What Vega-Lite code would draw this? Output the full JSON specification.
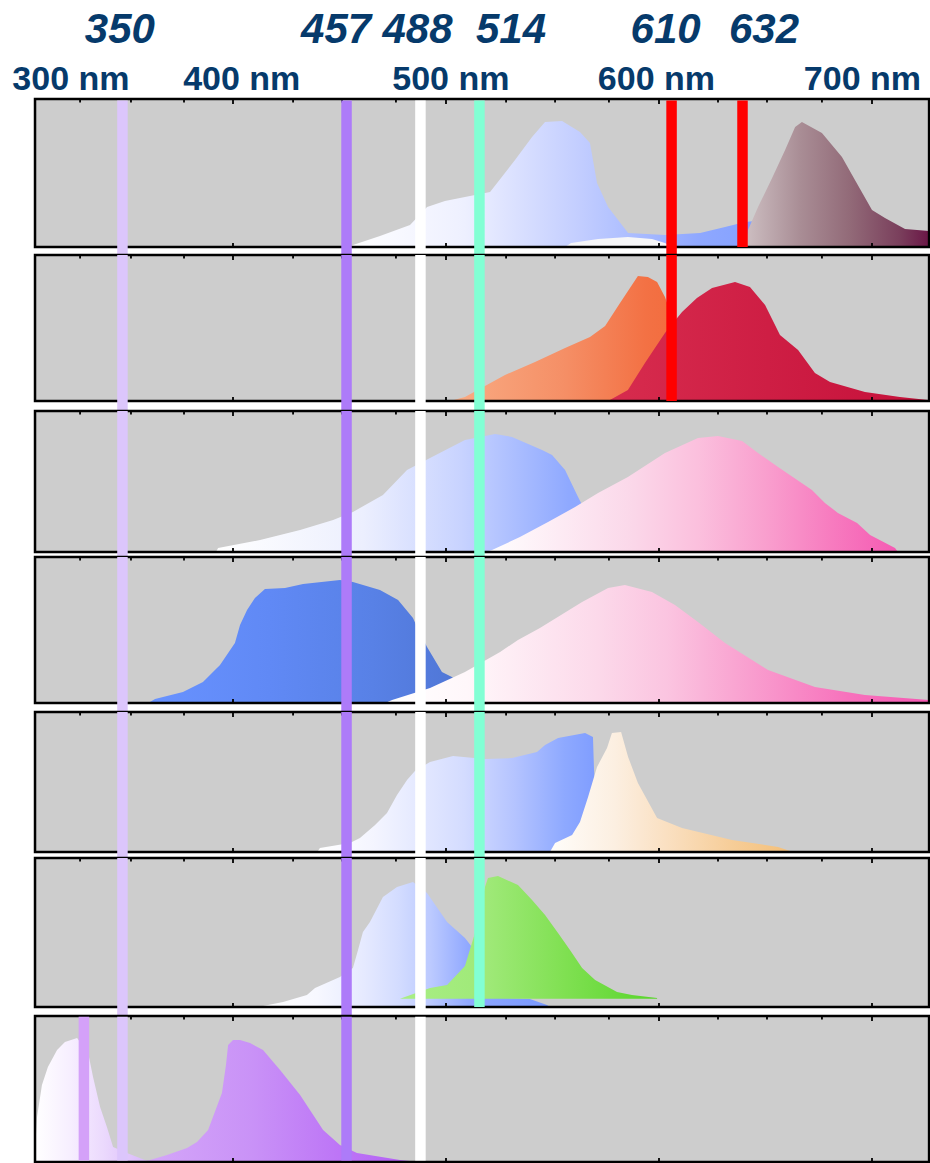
{
"$schema":"https://vega.github.io/schema/vega-lite/v6.json",
"padding":0,"spacing":0,"bounds":"flush","background":"white",
"config":{"view":{"stroke":null}},
"datasets":{
"labels":[
{"t":"350","wl":346.9,"row":"laser"},{"t":"457","wl":448.4,"row":"laser"},{"t":"488","wl":486.6,"row":"laser"},{"t":"514","wl":530.5,"row":"laser"},{"t":"610","wl":603.1,"row":"laser"},{"t":"632","wl":649.3,"row":"laser"},
{"t":"300 nm","wl":323.9,"row":"nm"},{"t":"400 nm","wl":404.1,"row":"nm"},{"t":"500 nm","wl":502.3,"row":"nm"},{"t":"600 nm","wl":598.8,"row":"nm"},{"t":"700 nm","wl":695.5,"row":"nm"}],
"ticks":[
{"wl":328.2,"major":false},{"wl":352.1,"major":false},{"wl":377.0,"major":false},{"wl":400,"major":true},{"wl":428.2,"major":false},{"wl":451.2,"major":false},{"wl":476.5,"major":false},{"wl":500,"major":true},{"wl":528.2,"major":false},{"wl":551.2,"major":false},{"wl":576.5,"major":false},{"wl":600,"major":true},{"wl":627.7,"major":false},{"wl":650.7,"major":false},{"wl":676.5,"major":false},{"wl":700,"major":true}],
"lasers":[
{"name":"l350","wl":348.1,"first":1,"last":7},{"name":"l457","wl":453.3,"first":1,"last":7},{"name":"l488","wl":488.0,"first":1,"last":7},{"name":"l514","wl":515.7,"first":1,"last":6},{"name":"l610","wl":605.9,"first":1,"last":2},{"name":"l632","wl":639.2,"first":1,"last":1},{"name":"l330","wl":330.0,"first":7,"last":7}],
"spectra":[
{"c":"p1a","wl":453.5,"v":0},{"c":"p1a","wl":469.0,"v":0.074},{"c":"p1a","wl":483.1,"v":0.149},{"c":"p1a","wl":491.1,"v":0.27},{"c":"p1a","wl":499.5,"v":0.311},{"c":"p1a","wl":508.9,"v":0.338},{"c":"p1a","wl":520.7,"v":0.372},{"c":"p1a","wl":532.4,"v":0.588},{"c":"p1a","wl":540.4,"v":0.743},{"c":"p1a","wl":546.5,"v":0.845},{"c":"p1a","wl":554.5,"v":0.851},{"c":"p1a","wl":562.9,"v":0.777},{"c":"p1a","wl":567.6,"v":0.703},{"c":"p1a","wl":570.9,"v":0.432},{"c":"p1a","wl":576.1,"v":0.27},{"c":"p1a","wl":585.5,"v":0.095},{"c":"p1a","wl":602.8,"v":0.081},{"c":"p1a","wl":619.3,"v":0.095},{"c":"p1a","wl":631.0,"v":0.135},{"c":"p1a","wl":640.4,"v":0.169},{"c":"p1a","wl":645.1,"v":0.176},{"c":"p1a","wl":647.4,"v":0.047},{"c":"p1a","wl":649.8,"v":0},
{"c":"p1w","wl":555.9,"v":0},{"c":"p1w","wl":558.7,"v":0.027},{"c":"p1w","wl":571.4,"v":0.054},{"c":"p1w","wl":585.4,"v":0.068},{"c":"p1w","wl":596.7,"v":0.054},{"c":"p1w","wl":602.8,"v":0.027},{"c":"p1w","wl":606.1,"v":0},
{"c":"p1m","wl":640.4,"v":0},{"c":"p1m","wl":641.8,"v":0.115},{"c":"p1m","wl":646.5,"v":0.27},{"c":"p1m","wl":653.1,"v":0.466},{"c":"p1m","wl":659.2,"v":0.655},{"c":"p1m","wl":663.9,"v":0.811},{"c":"p1m","wl":667.1,"v":0.845},{"c":"p1m","wl":676.5,"v":0.77},{"c":"p1m","wl":685.9,"v":0.608},{"c":"p1m","wl":692.0,"v":0.453},{"c":"p1m","wl":700.0,"v":0.25},{"c":"p1m","wl":706.1,"v":0.196},{"c":"p1m","wl":715.5,"v":0.122},{"c":"p1m","wl":726.8,"v":0.108},
{"c":"p2o","wl":501.9,"v":0},{"c":"p2o","wl":508.9,"v":0.027},{"c":"p2o","wl":518.3,"v":0.103},{"c":"p2o","wl":527.7,"v":0.178},{"c":"p2o","wl":541.8,"v":0.267},{"c":"p2o","wl":555.9,"v":0.363},{"c":"p2o","wl":567.6,"v":0.438},{"c":"p2o","wl":574.7,"v":0.514},{"c":"p2o","wl":581.7,"v":0.671},{"c":"p2o","wl":590.1,"v":0.856},{"c":"p2o","wl":594.8,"v":0.849},{"c":"p2o","wl":599.1,"v":0.815},{"c":"p2o","wl":602.8,"v":0.712},{"c":"p2o","wl":609.9,"v":0.418},{"c":"p2o","wl":619.3,"v":0.144},{"c":"p2o","wl":626.3,"v":0},
{"c":"p2r","wl":576.1,"v":0},{"c":"p2r","wl":585.4,"v":0.075},{"c":"p2r","wl":593.4,"v":0.26},{"c":"p2r","wl":602.8,"v":0.466},{"c":"p2r","wl":610.8,"v":0.61},{"c":"p2r","wl":617.8,"v":0.705},{"c":"p2r","wl":624.9,"v":0.774},{"c":"p2r","wl":635.7,"v":0.815},{"c":"p2r","wl":642.7,"v":0.781},{"c":"p2r","wl":649.8,"v":0.658},{"c":"p2r","wl":656.8,"v":0.452},{"c":"p2r","wl":665.3,"v":0.349},{"c":"p2r","wl":673.2,"v":0.192},{"c":"p2r","wl":680.3,"v":0.13},{"c":"p2r","wl":696.7,"v":0.062},{"c":"p2r","wl":713.1,"v":0.027},{"c":"p2r","wl":726.3,"v":0.007},
{"c":"p3b","wl":392.0,"v":0},{"c":"p3b","wl":393.0,"v":0.028},{"c":"p3b","wl":412.7,"v":0.085},{"c":"p3b","wl":431.5,"v":0.156},{"c":"p3b","wl":447.0,"v":0.227},{"c":"p3b","wl":456.3,"v":0.284},{"c":"p3b","wl":470.4,"v":0.404},{"c":"p3b","wl":481.7,"v":0.582},{"c":"p3b","wl":492.5,"v":0.667},{"c":"p3b","wl":508.9,"v":0.794},{"c":"p3b","wl":523.0,"v":0.837},{"c":"p3b","wl":531.0,"v":0.816},{"c":"p3b","wl":545.1,"v":0.723},{"c":"p3b","wl":549.8,"v":0.688},{"c":"p3b","wl":555.9,"v":0.582},{"c":"p3b","wl":562.0,"v":0.39},{"c":"p3b","wl":567.6,"v":0.227},{"c":"p3b","wl":581.7,"v":0.085},{"c":"p3b","wl":619.3,"v":0.021},{"c":"p3b","wl":622.0,"v":0},
{"c":"p3p","wl":518.3,"v":0},{"c":"p3p","wl":521.6,"v":0.014},{"c":"p3p","wl":534.7,"v":0.106},{"c":"p3p","wl":547.9,"v":0.213},{"c":"p3p","wl":560.6,"v":0.319},{"c":"p3p","wl":571.4,"v":0.418},{"c":"p3p","wl":585.4,"v":0.532},{"c":"p3p","wl":602.8,"v":0.702},{"c":"p3p","wl":618.3,"v":0.809},{"c":"p3p","wl":627.7,"v":0.823},{"c":"p3p","wl":639.0,"v":0.787},{"c":"p3p","wl":646.5,"v":0.702},{"c":"p3p","wl":655.9,"v":0.603},{"c":"p3p","wl":671.8,"v":0.44},{"c":"p3p","wl":677.9,"v":0.348},{"c":"p3p","wl":684.0,"v":0.277},{"c":"p3p","wl":693.0,"v":0.206},{"c":"p3p","wl":699.1,"v":0.121},{"c":"p3p","wl":710.8,"v":0.028},{"c":"p3p","wl":712.2,"v":0},
{"c":"p4b","wl":361.0,"v":0.007},{"c":"p4b","wl":363.4,"v":0.027},{"c":"p4b","wl":376.5,"v":0.075},{"c":"p4b","wl":385.9,"v":0.144},{"c":"p4b","wl":393.9,"v":0.26},{"c":"p4b","wl":400.9,"v":0.411},{"c":"p4b","wl":403.3,"v":0.534},{"c":"p4b","wl":406.6,"v":0.637},{"c":"p4b","wl":410.3,"v":0.719},{"c":"p4b","wl":415.0,"v":0.781},{"c":"p4b","wl":424.4,"v":0.788},{"c":"p4b","wl":432.9,"v":0.815},{"c":"p4b","wl":450.2,"v":0.842},{"c":"p4b","wl":456.3,"v":0.829},{"c":"p4b","wl":469.0,"v":0.774},{"c":"p4b","wl":477.5,"v":0.705},{"c":"p4b","wl":484.5,"v":0.582},{"c":"p4b","wl":486.4,"v":0.521},{"c":"p4b","wl":491.1,"v":0.384},{"c":"p4b","wl":498.1,"v":0.212},{"c":"p4b","wl":502.8,"v":0.178},{"c":"p4b","wl":511.3,"v":0.089},{"c":"p4b","wl":520.7,"v":0.014},{"c":"p4b","wl":522.0,"v":0},
{"c":"p4p","wl":471.4,"v":0},{"c":"p4p","wl":474.7,"v":0.021},{"c":"p4p","wl":492.5,"v":0.103},{"c":"p4p","wl":508.9,"v":0.212},{"c":"p4p","wl":525.4,"v":0.349},{"c":"p4p","wl":533.8,"v":0.432},{"c":"p4p","wl":544.1,"v":0.514},{"c":"p4p","wl":563.9,"v":0.692},{"c":"p4p","wl":576.1,"v":0.788},{"c":"p4p","wl":584.0,"v":0.808},{"c":"p4p","wl":596.7,"v":0.76},{"c":"p4p","wl":607.5,"v":0.671},{"c":"p4p","wl":618.3,"v":0.555},{"c":"p4p","wl":631.0,"v":0.411},{"c":"p4p","wl":651.2,"v":0.226},{"c":"p4p","wl":673.2,"v":0.11},{"c":"p4p","wl":696.7,"v":0.055},{"c":"p4p","wl":726.8,"v":0.021},
{"c":"p5b","wl":439.9,"v":0.007},{"c":"p5b","wl":440.8,"v":0.029},{"c":"p5b","wl":454.9,"v":0.064},{"c":"p5b","wl":459.6,"v":0.1},{"c":"p5b","wl":466.7,"v":0.193},{"c":"p5b","wl":472.3,"v":0.279},{"c":"p5b","wl":477.0,"v":0.407},{"c":"p5b","wl":481.7,"v":0.514},{"c":"p5b","wl":485.4,"v":0.579},{"c":"p5b","wl":492.5,"v":0.643},{"c":"p5b","wl":503.3,"v":0.686},{"c":"p5b","wl":518.3,"v":0.664},{"c":"p5b","wl":531.0,"v":0.671},{"c":"p5b","wl":542.7,"v":0.714},{"c":"p5b","wl":546.5,"v":0.764},{"c":"p5b","wl":552.6,"v":0.814},{"c":"p5b","wl":565.3,"v":0.85},{"c":"p5b","wl":569.0,"v":0.821},{"c":"p5b","wl":569.5,"v":0.586},{"c":"p5b","wl":570.4,"v":0.371},{"c":"p5b","wl":571.3,"v":0},
{"c":"p5c","wl":548.8,"v":0},{"c":"p5c","wl":551.2,"v":0.064},{"c":"p5c","wl":559.2,"v":0.121},{"c":"p5c","wl":562.9,"v":0.214},{"c":"p5c","wl":566.7,"v":0.393},{"c":"p5c","wl":570.9,"v":0.607},{"c":"p5c","wl":575.6,"v":0.743},{"c":"p5c","wl":577.9,"v":0.85},{"c":"p5c","wl":582.2,"v":0.857},{"c":"p5c","wl":585.5,"v":0.679},{"c":"p5c","wl":590.1,"v":0.493},{"c":"p5c","wl":599.1,"v":0.243},{"c":"p5c","wl":610.8,"v":0.171},{"c":"p5c","wl":634.3,"v":0.086},{"c":"p5c","wl":655.9,"v":0.036},{"c":"p5c","wl":661.5,"v":0.007},
{"c":"p6b","wl":412.0,"v":0},{"c":"p6b","wl":414.1,"v":0.007},{"c":"p6b","wl":423.5,"v":0.034},{"c":"p6b","wl":434.7,"v":0.081},{"c":"p6b","wl":438.5,"v":0.128},{"c":"p6b","wl":450.2,"v":0.201},{"c":"p6b","wl":456.3,"v":0.262},{"c":"p6b","wl":458.7,"v":0.383},{"c":"p6b","wl":461.0,"v":0.503},{"c":"p6b","wl":464.3,"v":0.57},{"c":"p6b","wl":470.4,"v":0.738},{"c":"p6b","wl":477.0,"v":0.805},{"c":"p6b","wl":484.5,"v":0.839},{"c":"p6b","wl":491.1,"v":0.765},{"c":"p6b","wl":500.5,"v":0.57},{"c":"p6b","wl":508.9,"v":0.463},{"c":"p6b","wl":512.2,"v":0.403},{"c":"p6b","wl":516.0,"v":0.282},{"c":"p6b","wl":520.7,"v":0.148},{"c":"p6b","wl":525.4,"v":0.06},{"c":"p6b","wl":539.4,"v":0.054},{"c":"p6b","wl":547.4,"v":0.013},{"c":"p6b","wl":548.8,"v":0},
{"c":"p6g","wl":478.4,"v":0.055},{"c":"p6g","wl":492.5,"v":0.128},{"c":"p6g","wl":500.5,"v":0.148},{"c":"p6g","wl":508.9,"v":0.275},{"c":"p6g","wl":513.6,"v":0.497},{"c":"p6g","wl":518.3,"v":0.805},{"c":"p6g","wl":519.7,"v":0.866},{"c":"p6g","wl":524.4,"v":0.879},{"c":"p6g","wl":533.8,"v":0.819},{"c":"p6g","wl":540.4,"v":0.718},{"c":"p6g","wl":546.5,"v":0.617},{"c":"p6g","wl":552.6,"v":0.497},{"c":"p6g","wl":558.2,"v":0.383},{"c":"p6g","wl":563.9,"v":0.262},{"c":"p6g","wl":570.0,"v":0.181},{"c":"p6g","wl":580.3,"v":0.101},{"c":"p6g","wl":587.3,"v":0.081},{"c":"p6g","wl":599.1,"v":0.06},
{"c":"p7w","wl":307.05,"v":0},{"c":"p7w","wl":307.5,"v":0.185},{"c":"p7w","wl":308.0,"v":0.308},{"c":"p7w","wl":310.3,"v":0.527},{"c":"p7w","wl":313.1,"v":0.651},{"c":"p7w","wl":317.4,"v":0.767},{"c":"p7w","wl":321.1,"v":0.822},{"c":"p7w","wl":326.8,"v":0.849},{"c":"p7w","wl":332.0,"v":0.747},{"c":"p7w","wl":334.3,"v":0.582},{"c":"p7w","wl":337.6,"v":0.377},{"c":"p7w","wl":340.8,"v":0.24},{"c":"p7w","wl":343.7,"v":0.103},{"c":"p7w","wl":350.2,"v":0.062},{"c":"p7w","wl":361.0,"v":0},
{"c":"p7p","wl":356.3,"v":0},{"c":"p7p","wl":361.0,"v":0.014},{"c":"p7p","wl":369.0,"v":0.048},{"c":"p7p","wl":378.4,"v":0.096},{"c":"p7p","wl":383.1,"v":0.137},{"c":"p7p","wl":388.3,"v":0.219},{"c":"p7p","wl":394.8,"v":0.473},{"c":"p7p","wl":396.7,"v":0.664},{"c":"p7p","wl":397.7,"v":0.801},{"c":"p7p","wl":400.0,"v":0.836},{"c":"p7p","wl":403.3,"v":0.836},{"c":"p7p","wl":408.0,"v":0.815},{"c":"p7p","wl":414.1,"v":0.767},{"c":"p7p","wl":422.1,"v":0.63},{"c":"p7p","wl":431.5,"v":0.459},{"c":"p7p","wl":442.3,"v":0.219},{"c":"p7p","wl":450.2,"v":0.116},{"c":"p7p","wl":458.2,"v":0.062},{"c":"p7p","wl":478.4,"v":0.014},{"c":"p7p","wl":487.8,"v":0}
]},
"vconcat":[
{"width":930,"height":99,"data":{"name":"labels"},"layer":[
 {"transform":[{"filter":"datum.row=='laser'"}],"mark":{"type":"text","font":"Liberation Sans","fontSize":42,"fontWeight":"bold","fontStyle":"italic","color":"#063a6b","baseline":"alphabetic","align":"center"},
  "encoding":{"x":{"field":"wl","type":"quantitative","scale":{"domain":[290.61,727.23],"nice":false,"zero":false},"axis":null},"y":{"field":"row","type":"nominal","scale":{"type":"point","domain":["laser","nm"],"range":[43,90],"padding":0},"axis":null},"text":{"field":"t"}}},
 {"transform":[{"filter":"datum.row=='nm'"}],"mark":{"type":"text","font":"Liberation Sans","fontSize":34,"fontWeight":"bold","color":"#063a6b","baseline":"alphabetic","align":"center"},
  "encoding":{"x":{"field":"wl","type":"quantitative","scale":{"domain":[290.61,727.23],"nice":false,"zero":false},"axis":null},"y":{"field":"row","type":"nominal","scale":{"type":"point","domain":["laser","nm"],"range":[43,90],"padding":0},"axis":null},"text":{"field":"t"}}}
]},
{"width":930,"height":156,"layer":[
 {"data":{"values":[{}]},"mark":{"type":"rect","fill":"#cdcdcd"},"encoding":{"x":{"datum":307.05,"type":"quantitative","scale":{"domain":[290.61,727.23],"nice":false,"zero":false},"axis":null},"x2":{"datum":726.8},"y":{"datum":0,"type":"quantitative","scale":{"domain":[-0.05405,1],"nice":false,"zero":false},"axis":null},"y2":{"datum":1}}},
 {"data":{"name":"spectra"},"transform":[{"filter":"datum.c=='p1a'"}],"mark":{"type":"area","opacity":1,"fill":{"gradient":"linear","stops":[{"offset":0,"color":"#ffffff"},{"offset":0.28,"color":"#eef0ff"},{"offset":0.56,"color":"#c2cdff"},{"offset":0.84,"color":"#8fa8ff"},{"offset":1,"color":"#82a0ff"}]}},"encoding":{"x":{"field":"wl","type":"quantitative","axis":null},"y":{"field":"v","type":"quantitative","axis":null},"y2":{"datum":0}}},
 {"data":{"name":"spectra"},"transform":[{"filter":"datum.c=='p1w'"}],"mark":{"type":"area","opacity":1,"fill":"#f6f6f8"},"encoding":{"x":{"field":"wl","type":"quantitative","axis":null},"y":{"field":"v","type":"quantitative","axis":null},"y2":{"datum":0}}},
 {"data":{"name":"spectra"},"transform":[{"filter":"datum.c=='p1m'"}],"mark":{"type":"area","opacity":1,"fill":{"gradient":"linear","stops":[{"offset":0,"color":"#cdbfc2"},{"offset":0.3,"color":"#a98d95"},{"offset":0.57,"color":"#926a78"},{"offset":0.84,"color":"#7a3f5c"},{"offset":1,"color":"#6a1646"}]}},"encoding":{"x":{"field":"wl","type":"quantitative","axis":null},"y":{"field":"v","type":"quantitative","axis":null},"y2":{"datum":0}}},
 {"data":{"values":[{}]},"mark":{"type":"rect","fill":"transparent","stroke":"#000000","strokeWidth":2.5},"encoding":{"x":{"datum":307.05,"type":"quantitative"},"x2":{"datum":726.8},"y":{"datum":0,"type":"quantitative"},"y2":{"datum":1}}},
 {"data":{"name":"ticks"},"transform":[{"filter":"datum.major"}],"mark":{"type":"rule","color":"#000000","strokeWidth":1.8},"encoding":{"x":{"field":"wl","type":"quantitative"},"y":{"datum":1,"type":"quantitative"},"y2":{"datum":0.9662}}},
 {"data":{"name":"ticks"},"transform":[{"filter":"!datum.major"}],"mark":{"type":"rule","color":"#000000","strokeWidth":1.8},"encoding":{"x":{"field":"wl","type":"quantitative"},"y":{"datum":1,"type":"quantitative"},"y2":{"datum":0.9764}}},
 {"data":{"name":"ticks"},"transform":[{"filter":"datum.major"}],"mark":{"type":"rule","color":"#000000","strokeWidth":1.8},"encoding":{"x":{"field":"wl","type":"quantitative"},"y":{"datum":0,"type":"quantitative"},"y2":{"datum":0.027}}},
 {"data":{"name":"lasers"},"transform":[{"filter":"datum.first<=1 && datum.last>1"}],"mark":{"type":"rule","strokeWidth":10.5},"encoding":{"x":{"field":"wl","type":"quantitative"},"y":{"datum":-0.05405,"type":"quantitative"},"y2":{"datum":0.99},"color":{"field":"name","type":"nominal","scale":{"domain":["l350","l457","l488","l514","l610","l632","l330"],"range":["#dcc6fc","#ad7bf9","#ffffff","#82ffd4","#ff0000","#ff0000","#d4a1f9"]},"legend":null}}},
 {"data":{"name":"lasers"},"transform":[{"filter":"datum.last==1"}],"mark":{"type":"rule","strokeWidth":10.5},"encoding":{"x":{"field":"wl","type":"quantitative"},"y":{"datum":0,"type":"quantitative"},"y2":{"datum":0.99},"color":{"field":"name","type":"nominal","scale":{"domain":["l350","l457","l488","l514","l610","l632","l330"],"range":["#dcc6fc","#ad7bf9","#ffffff","#82ffd4","#ff0000","#ff0000","#d4a1f9"]},"legend":null}}}
]},
{"width":930,"height":156,"layer":[
 {"data":{"values":[{}]},"mark":{"type":"rect","fill":"#cdcdcd"},"encoding":{"x":{"datum":307.05,"type":"quantitative","scale":{"domain":[290.61,727.23],"nice":false,"zero":false},"axis":null},"x2":{"datum":726.8},"y":{"datum":0,"type":"quantitative","scale":{"domain":[-0.06849,1],"nice":false,"zero":false},"axis":null},"y2":{"datum":1}}},
 {"data":{"name":"spectra"},"transform":[{"filter":"datum.c=='p2o'"}],"mark":{"type":"area","opacity":1,"fill":{"gradient":"linear","stops":[{"offset":0,"color":"#f9ac84"},{"offset":0.43,"color":"#f58f66"},{"offset":0.74,"color":"#f37144"},{"offset":1,"color":"#f26536"}]}},"encoding":{"x":{"field":"wl","type":"quantitative","axis":null},"y":{"field":"v","type":"quantitative","axis":null},"y2":{"datum":0}}},
 {"data":{"name":"spectra"},"transform":[{"filter":"datum.c=='p2r'"}],"mark":{"type":"area","opacity":1,"fill":{"gradient":"linear","stops":[{"offset":0,"color":"#d72c4e"},{"offset":1,"color":"#c5103a"}]}},"encoding":{"x":{"field":"wl","type":"quantitative","axis":null},"y":{"field":"v","type":"quantitative","axis":null},"y2":{"datum":0}}},
 {"data":{"values":[{}]},"mark":{"type":"rect","fill":"transparent","stroke":"#000000","strokeWidth":2.5},"encoding":{"x":{"datum":307.05,"type":"quantitative"},"x2":{"datum":726.8},"y":{"datum":0,"type":"quantitative"},"y2":{"datum":1}}},
 {"data":{"name":"ticks"},"transform":[{"filter":"datum.major"}],"mark":{"type":"rule","color":"#000000","strokeWidth":1.8},"encoding":{"x":{"field":"wl","type":"quantitative"},"y":{"datum":1,"type":"quantitative"},"y2":{"datum":0.9658}}},
 {"data":{"name":"ticks"},"transform":[{"filter":"!datum.major"}],"mark":{"type":"rule","color":"#000000","strokeWidth":1.8},"encoding":{"x":{"field":"wl","type":"quantitative"},"y":{"datum":1,"type":"quantitative"},"y2":{"datum":0.976}}},
 {"data":{"name":"ticks"},"transform":[{"filter":"datum.major"}],"mark":{"type":"rule","color":"#000000","strokeWidth":1.8},"encoding":{"x":{"field":"wl","type":"quantitative"},"y":{"datum":0,"type":"quantitative"},"y2":{"datum":0.0274}}},
 {"data":{"name":"lasers"},"transform":[{"filter":"datum.first<=2 && datum.last>2"}],"mark":{"type":"rule","strokeWidth":10.5},"encoding":{"x":{"field":"wl","type":"quantitative"},"color":{"field":"name","type":"nominal","scale":{"domain":["l350","l457","l488","l514","l610","l632","l330"],"range":["#dcc6fc","#ad7bf9","#ffffff","#82ffd4","#ff0000","#ff0000","#d4a1f9"]},"legend":null}}},
 {"data":{"name":"lasers"},"transform":[{"filter":"datum.last==2"}],"mark":{"type":"rule","strokeWidth":10.5},"encoding":{"x":{"field":"wl","type":"quantitative"},"y":{"datum":0,"type":"quantitative"},"y2":{"datum":1},"color":{"field":"name","type":"nominal","scale":{"domain":["l350","l457","l488","l514","l610","l632","l330"],"range":["#dcc6fc","#ad7bf9","#ffffff","#82ffd4","#ff0000","#ff0000","#d4a1f9"]},"legend":null}}}
]},
{"width":930,"height":146,"layer":[
 {"data":{"values":[{}]},"mark":{"type":"rect","fill":"#cdcdcd"},"encoding":{"x":{"datum":307.05,"type":"quantitative","scale":{"domain":[290.61,727.23],"nice":false,"zero":false},"axis":null},"x2":{"datum":726.8},"y":{"datum":0,"type":"quantitative","scale":{"domain":[-0.03546,1],"nice":false,"zero":false},"axis":null},"y2":{"datum":1}}},
 {"data":{"name":"spectra"},"transform":[{"filter":"datum.c=='p3b'"}],"mark":{"type":"area","opacity":1,"fill":{"gradient":"linear","stops":[{"offset":0,"color":"#ffffff"},{"offset":0.3,"color":"#eceffe"},{"offset":0.5,"color":"#c8d3ff"},{"offset":0.72,"color":"#8fa9ff"},{"offset":1,"color":"#86a2ff"}]}},"encoding":{"x":{"field":"wl","type":"quantitative","axis":null},"y":{"field":"v","type":"quantitative","axis":null},"y2":{"datum":0}}},
 {"data":{"name":"spectra"},"transform":[{"filter":"datum.c=='p3p'"}],"mark":{"type":"area","opacity":1,"fill":{"gradient":"linear","stops":[{"offset":0,"color":"#ffffff"},{"offset":0.36,"color":"#fbd7e9"},{"offset":0.52,"color":"#fbbfdd"},{"offset":0.68,"color":"#f99fce"},{"offset":0.84,"color":"#f77bbf"},{"offset":1,"color":"#f55ab3"}]}},"encoding":{"x":{"field":"wl","type":"quantitative","axis":null},"y":{"field":"v","type":"quantitative","axis":null},"y2":{"datum":0}}},
 {"data":{"values":[{}]},"mark":{"type":"rect","fill":"transparent","stroke":"#000000","strokeWidth":2.5},"encoding":{"x":{"datum":307.05,"type":"quantitative"},"x2":{"datum":726.8},"y":{"datum":0,"type":"quantitative"},"y2":{"datum":1}}},
 {"data":{"name":"ticks"},"transform":[{"filter":"datum.major"}],"mark":{"type":"rule","color":"#000000","strokeWidth":1.8},"encoding":{"x":{"field":"wl","type":"quantitative"},"y":{"datum":1,"type":"quantitative"},"y2":{"datum":0.9645}}},
 {"data":{"name":"ticks"},"transform":[{"filter":"!datum.major"}],"mark":{"type":"rule","color":"#000000","strokeWidth":1.8},"encoding":{"x":{"field":"wl","type":"quantitative"},"y":{"datum":1,"type":"quantitative"},"y2":{"datum":0.9752}}},
 {"data":{"name":"ticks"},"transform":[{"filter":"datum.major"}],"mark":{"type":"rule","color":"#000000","strokeWidth":1.8},"encoding":{"x":{"field":"wl","type":"quantitative"},"y":{"datum":0,"type":"quantitative"},"y2":{"datum":0.0284}}},
 {"data":{"name":"lasers"},"transform":[{"filter":"datum.first<=3 && datum.last>3"}],"mark":{"type":"rule","strokeWidth":10.5},"encoding":{"x":{"field":"wl","type":"quantitative"},"color":{"field":"name","type":"nominal","scale":{"domain":["l350","l457","l488","l514","l610","l632","l330"],"range":["#dcc6fc","#ad7bf9","#ffffff","#82ffd4","#ff0000","#ff0000","#d4a1f9"]},"legend":null}}}
]},
{"width":930,"height":155,"layer":[
 {"data":{"values":[{}]},"mark":{"type":"rect","fill":"#cdcdcd"},"encoding":{"x":{"datum":307.05,"type":"quantitative","scale":{"domain":[290.61,727.23],"nice":false,"zero":false},"axis":null},"x2":{"datum":726.8},"y":{"datum":0,"type":"quantitative","scale":{"domain":[-0.06164,1],"nice":false,"zero":false},"axis":null},"y2":{"datum":1}}},
 {"data":{"name":"spectra"},"transform":[{"filter":"datum.c=='p4b'"}],"mark":{"type":"area","opacity":1,"fill":{"gradient":"linear","stops":[{"offset":0,"color":"#6892ff"},{"offset":0.35,"color":"#6089f5"},{"offset":0.65,"color":"#5881e6"},{"offset":1,"color":"#4c72cf"}]}},"encoding":{"x":{"field":"wl","type":"quantitative","axis":null},"y":{"field":"v","type":"quantitative","axis":null},"y2":{"datum":0}}},
 {"data":{"name":"spectra"},"transform":[{"filter":"datum.c=='p4p'"}],"mark":{"type":"area","opacity":1,"fill":{"gradient":"linear","stops":[{"offset":0,"color":"#ffffff"},{"offset":0.15,"color":"#fff7fa"},{"offset":0.39,"color":"#fcd9ea"},{"offset":0.52,"color":"#fbc4e0"},{"offset":0.64,"color":"#f9a6d2"},{"offset":0.85,"color":"#f772bc"},{"offset":1,"color":"#f65ab4"}]}},"encoding":{"x":{"field":"wl","type":"quantitative","axis":null},"y":{"field":"v","type":"quantitative","axis":null},"y2":{"datum":0}}},
 {"data":{"values":[{}]},"mark":{"type":"rect","fill":"transparent","stroke":"#000000","strokeWidth":2.5},"encoding":{"x":{"datum":307.05,"type":"quantitative"},"x2":{"datum":726.8},"y":{"datum":0,"type":"quantitative"},"y2":{"datum":1}}},
 {"data":{"name":"ticks"},"transform":[{"filter":"datum.major"}],"mark":{"type":"rule","color":"#000000","strokeWidth":1.8},"encoding":{"x":{"field":"wl","type":"quantitative"},"y":{"datum":1,"type":"quantitative"},"y2":{"datum":0.9658}}},
 {"data":{"name":"ticks"},"transform":[{"filter":"!datum.major"}],"mark":{"type":"rule","color":"#000000","strokeWidth":1.8},"encoding":{"x":{"field":"wl","type":"quantitative"},"y":{"datum":1,"type":"quantitative"},"y2":{"datum":0.976}}},
 {"data":{"name":"ticks"},"transform":[{"filter":"datum.major"}],"mark":{"type":"rule","color":"#000000","strokeWidth":1.8},"encoding":{"x":{"field":"wl","type":"quantitative"},"y":{"datum":0,"type":"quantitative"},"y2":{"datum":0.0274}}},
 {"data":{"name":"lasers"},"transform":[{"filter":"datum.first<=4 && datum.last>4"}],"mark":{"type":"rule","strokeWidth":10.5},"encoding":{"x":{"field":"wl","type":"quantitative"},"color":{"field":"name","type":"nominal","scale":{"domain":["l350","l457","l488","l514","l610","l632","l330"],"range":["#dcc6fc","#ad7bf9","#ffffff","#82ffd4","#ff0000","#ff0000","#d4a1f9"]},"legend":null}}}
]},
{"width":930,"height":146,"layer":[
 {"data":{"values":[{}]},"mark":{"type":"rect","fill":"#cdcdcd"},"encoding":{"x":{"datum":307.05,"type":"quantitative","scale":{"domain":[290.61,727.23],"nice":false,"zero":false},"axis":null},"x2":{"datum":726.8},"y":{"datum":0,"type":"quantitative","scale":{"domain":[-0.04286,1],"nice":false,"zero":false},"axis":null},"y2":{"datum":1}}},
 {"data":{"name":"spectra"},"transform":[{"filter":"datum.c=='p5b'"}],"mark":{"type":"area","opacity":1,"fill":{"gradient":"linear","stops":[{"offset":0,"color":"#ffffff"},{"offset":0.2,"color":"#f4f5ff"},{"offset":0.52,"color":"#d4dcff"},{"offset":0.7,"color":"#b5c4ff"},{"offset":0.88,"color":"#8ea9ff"},{"offset":1,"color":"#7e9cff"}]}},"encoding":{"x":{"field":"wl","type":"quantitative","axis":null},"y":{"field":"v","type":"quantitative","axis":null},"y2":{"datum":0}}},
 {"data":{"name":"spectra"},"transform":[{"filter":"datum.c=='p5c'"}],"mark":{"type":"area","opacity":1,"fill":{"gradient":"linear","stops":[{"offset":0,"color":"#fffdfa"},{"offset":0.27,"color":"#fcefe1"},{"offset":0.48,"color":"#fae0c2"},{"offset":0.76,"color":"#f6cd98"},{"offset":1,"color":"#f4c07a"}]}},"encoding":{"x":{"field":"wl","type":"quantitative","axis":null},"y":{"field":"v","type":"quantitative","axis":null},"y2":{"datum":0}}},
 {"data":{"values":[{}]},"mark":{"type":"rect","fill":"transparent","stroke":"#000000","strokeWidth":2.5},"encoding":{"x":{"datum":307.05,"type":"quantitative"},"x2":{"datum":726.8},"y":{"datum":0,"type":"quantitative"},"y2":{"datum":1}}},
 {"data":{"name":"ticks"},"transform":[{"filter":"datum.major"}],"mark":{"type":"rule","color":"#000000","strokeWidth":1.8},"encoding":{"x":{"field":"wl","type":"quantitative"},"y":{"datum":1,"type":"quantitative"},"y2":{"datum":0.9643}}},
 {"data":{"name":"ticks"},"transform":[{"filter":"!datum.major"}],"mark":{"type":"rule","color":"#000000","strokeWidth":1.8},"encoding":{"x":{"field":"wl","type":"quantitative"},"y":{"datum":1,"type":"quantitative"},"y2":{"datum":0.975}}},
 {"data":{"name":"ticks"},"transform":[{"filter":"datum.major"}],"mark":{"type":"rule","color":"#000000","strokeWidth":1.8},"encoding":{"x":{"field":"wl","type":"quantitative"},"y":{"datum":0,"type":"quantitative"},"y2":{"datum":0.0286}}},
 {"data":{"name":"lasers"},"transform":[{"filter":"datum.first<=5 && datum.last>5"}],"mark":{"type":"rule","strokeWidth":10.5},"encoding":{"x":{"field":"wl","type":"quantitative"},"color":{"field":"name","type":"nominal","scale":{"domain":["l350","l457","l488","l514","l610","l632","l330"],"range":["#dcc6fc","#ad7bf9","#ffffff","#82ffd4","#ff0000","#ff0000","#d4a1f9"]},"legend":null}}}
]},
{"width":930,"height":158,"layer":[
 {"data":{"values":[{}]},"mark":{"type":"rect","fill":"#cdcdcd"},"encoding":{"x":{"datum":307.05,"type":"quantitative","scale":{"domain":[290.61,727.23],"nice":false,"zero":false},"axis":null},"x2":{"datum":726.8},"y":{"datum":0,"type":"quantitative","scale":{"domain":[-0.0604,1],"nice":false,"zero":false},"axis":null},"y2":{"datum":1}}},
 {"data":{"name":"spectra"},"transform":[{"filter":"datum.c=='p6b'"}],"mark":{"type":"area","opacity":1,"fill":{"gradient":"linear","stops":[{"offset":0,"color":"#ffffff"},{"offset":0.2,"color":"#f7f8ff"},{"offset":0.36,"color":"#e6eaff"},{"offset":0.48,"color":"#d3dcff"},{"offset":0.59,"color":"#bccaff"},{"offset":0.72,"color":"#90a8ff"},{"offset":1,"color":"#7898ff"}]}},"encoding":{"x":{"field":"wl","type":"quantitative","axis":null},"y":{"field":"v","type":"quantitative","axis":null},"y2":{"datum":0}}},
 {"data":{"name":"spectra"},"transform":[{"filter":"datum.c=='p6g'"}],"mark":{"type":"area","opacity":1,"fill":{"gradient":"linear","stops":[{"offset":0,"color":"#a9ee84"},{"offset":0.34,"color":"#9fe978"},{"offset":0.64,"color":"#80e052"},{"offset":1,"color":"#58d52a"}]}},"encoding":{"x":{"field":"wl","type":"quantitative","axis":null},"y":{"field":"v","type":"quantitative","axis":null},"y2":{"datum":0.055}}},
 {"data":{"values":[{}]},"mark":{"type":"rect","fill":"transparent","stroke":"#000000","strokeWidth":2.5},"encoding":{"x":{"datum":307.05,"type":"quantitative"},"x2":{"datum":726.8},"y":{"datum":0,"type":"quantitative"},"y2":{"datum":1}}},
 {"data":{"name":"ticks"},"transform":[{"filter":"datum.major"}],"mark":{"type":"rule","color":"#000000","strokeWidth":1.8},"encoding":{"x":{"field":"wl","type":"quantitative"},"y":{"datum":1,"type":"quantitative"},"y2":{"datum":0.9664}}},
 {"data":{"name":"ticks"},"transform":[{"filter":"!datum.major"}],"mark":{"type":"rule","color":"#000000","strokeWidth":1.8},"encoding":{"x":{"field":"wl","type":"quantitative"},"y":{"datum":1,"type":"quantitative"},"y2":{"datum":0.9765}}},
 {"data":{"name":"ticks"},"transform":[{"filter":"datum.major"}],"mark":{"type":"rule","color":"#000000","strokeWidth":1.8},"encoding":{"x":{"field":"wl","type":"quantitative"},"y":{"datum":0,"type":"quantitative"},"y2":{"datum":0.0268}}},
 {"data":{"name":"lasers"},"transform":[{"filter":"datum.first<=6 && datum.last>6"}],"mark":{"type":"rule","strokeWidth":10.5},"encoding":{"x":{"field":"wl","type":"quantitative"},"color":{"field":"name","type":"nominal","scale":{"domain":["l350","l457","l488","l514","l610","l632","l330"],"range":["#dcc6fc","#ad7bf9","#ffffff","#82ffd4","#ff0000","#ff0000","#d4a1f9"]},"legend":null}}},
 {"data":{"name":"lasers"},"transform":[{"filter":"datum.last==6"}],"mark":{"type":"rule","strokeWidth":10.5},"encoding":{"x":{"field":"wl","type":"quantitative"},"y":{"datum":0,"type":"quantitative"},"y2":{"datum":1},"color":{"field":"name","type":"nominal","scale":{"domain":["l350","l457","l488","l514","l610","l632","l330"],"range":["#dcc6fc","#ad7bf9","#ffffff","#82ffd4","#ff0000","#ff0000","#d4a1f9"]},"legend":null}}}
]},
{"width":930,"height":147,"layer":[
 {"data":{"values":[{}]},"mark":{"type":"rect","fill":"#cdcdcd"},"encoding":{"x":{"datum":307.05,"type":"quantitative","scale":{"domain":[290.61,727.23],"nice":false,"zero":false},"axis":null},"x2":{"datum":726.8},"y":{"datum":0,"type":"quantitative","scale":{"domain":[-0.00685,1],"nice":false,"zero":false},"axis":null},"y2":{"datum":1}}},
 {"data":{"name":"spectra"},"transform":[{"filter":"datum.c=='p7p'"}],"mark":{"type":"area","opacity":1,"fill":{"gradient":"linear","stops":[{"offset":0,"color":"#d5a8f9"},{"offset":0.4,"color":"#c992f7"},{"offset":0.71,"color":"#bd75f6"},{"offset":1,"color":"#b25df4"}]}},"encoding":{"x":{"field":"wl","type":"quantitative","axis":null},"y":{"field":"v","type":"quantitative","axis":null},"y2":{"datum":0}}},
 {"data":{"name":"spectra"},"transform":[{"filter":"datum.c=='p7w'"}],"mark":{"type":"area","opacity":1,"fill":{"gradient":"linear","stops":[{"offset":0,"color":"#ffffff"},{"offset":0.3,"color":"#f7efff"},{"offset":0.6,"color":"#ebd9fd"},{"offset":1,"color":"#d7b5fa"}]}},"encoding":{"x":{"field":"wl","type":"quantitative","axis":null},"y":{"field":"v","type":"quantitative","axis":null},"y2":{"datum":0}}},
 {"data":{"values":[{}]},"mark":{"type":"rect","fill":"transparent","stroke":"#000000","strokeWidth":2.5},"encoding":{"x":{"datum":307.05,"type":"quantitative"},"x2":{"datum":726.8},"y":{"datum":0,"type":"quantitative"},"y2":{"datum":1}}},
 {"data":{"name":"ticks"},"transform":[{"filter":"datum.major"}],"mark":{"type":"rule","color":"#000000","strokeWidth":1.8},"encoding":{"x":{"field":"wl","type":"quantitative"},"y":{"datum":1,"type":"quantitative"},"y2":{"datum":0.9658}}},
 {"data":{"name":"ticks"},"transform":[{"filter":"!datum.major"}],"mark":{"type":"rule","color":"#000000","strokeWidth":1.8},"encoding":{"x":{"field":"wl","type":"quantitative"},"y":{"datum":1,"type":"quantitative"},"y2":{"datum":0.976}}},
 {"data":{"name":"ticks"},"transform":[{"filter":"datum.major"}],"mark":{"type":"rule","color":"#000000","strokeWidth":1.8},"encoding":{"x":{"field":"wl","type":"quantitative"},"y":{"datum":0,"type":"quantitative"},"y2":{"datum":0.0274}}},
 {"data":{"name":"lasers"},"transform":[{"filter":"datum.last==7"}],"mark":{"type":"rule","strokeWidth":10.5},"encoding":{"x":{"field":"wl","type":"quantitative"},"y":{"datum":0.01,"type":"quantitative"},"y2":{"datum":0.995},"color":{"field":"name","type":"nominal","scale":{"domain":["l350","l457","l488","l514","l610","l632","l330"],"range":["#dcc6fc","#ad7bf9","#ffffff","#82ffd4","#ff0000","#ff0000","#d4a1f9"]},"legend":null}}}
]}
]
}
